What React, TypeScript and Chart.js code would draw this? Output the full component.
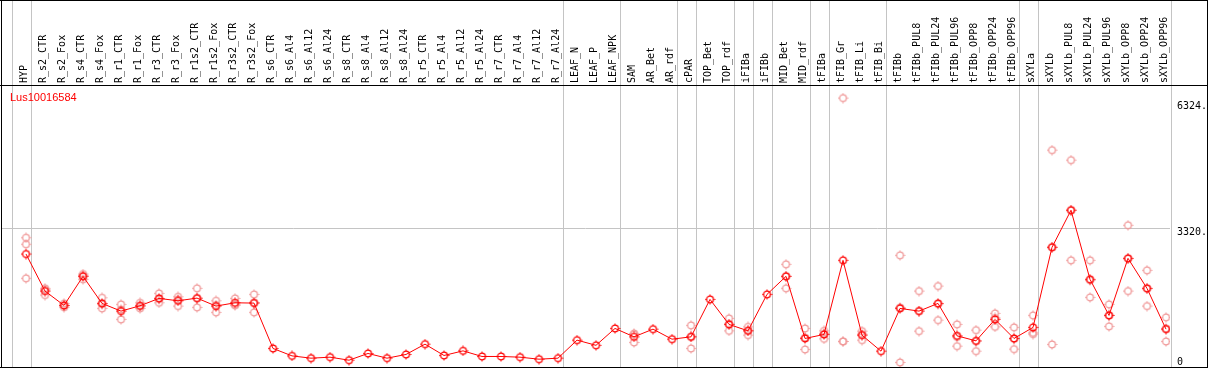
import React, { useEffect, useRef } from "react";
import { Chart, registerables } from "chart.js";

Chart.register(...registerables);

const chartTitle = "Lus10016584";

const categories = [
  "HYP",
  "R_s2_CTR", "R_s2_Fox", "R_s4_CTR", "R_s4_Fox", "R_r1_CTR", "R_r1_Fox", "R_r3_CTR", "R_r3_Fox",
  "R_r1s2_CTR", "R_r1s2_Fox", "R_r3s2_CTR", "R_r3s2_Fox",
  "R_s6_CTR", "R_s6_Al4", "R_s6_Al12", "R_s6_Al24", "R_s8_CTR", "R_s8_Al4", "R_s8_Al12", "R_s8_Al24",
  "R_r5_CTR", "R_r5_Al4", "R_r5_Al12", "R_r5_Al24", "R_r7_CTR", "R_r7_Al4", "R_r7_Al12", "R_r7_Al24",
  "LEAF_N", "LEAF_P", "LEAF_NPK",
  "SAM", "AR_Bet", "AR_rdf",
  "cPAR",
  "TOP_Bet", "TOP_rdf",
  "iFIBa", "iFIBb",
  "MID_Bet", "MID_rdf",
  "tFIBa",
  "tFIB_Gr", "tFIB_Li", "tFIB_Bi",
  "tFIBb", "tFIBb_PUL8", "tFIBb_PUL24", "tFIBb_PUL96", "tFIBb_OPP8", "tFIBb_OPP24", "tFIBb_OPP96",
  "sXYLa",
  "sXYLb", "sXYLb_PUL8", "sXYLb_PUL24", "sXYLb_PUL96", "sXYLb_OPP8", "sXYLb_OPP24", "sXYLb_OPP96",
];

const means = [
  2704, 1817, 1474, 2170, 1522, 1338, 1465, 1642, 1585, 1649, 1458, 1537, 1530,
  444, 266, 211, 235, 163, 324, 211, 300, 547, 276, 386, 252, 252, 235, 187, 211,
  643, 519, 923,
  722, 906, 666,
  722,
  1618, 1019,
  866, 1738,
  2170, 683,
  779,
  2553, 762, 379,
  1402, 1338, 1522, 746, 626, 1139, 683,
  947,
  2865, 3752, 2098, 1235, 2601, 1882, 906,
];

const N = null;
const repA = [
  3095, 1882, 1522, 2225, 1657, 1498, 1537, 1762, 1681, 1882, 1585, 1642, 1738,
  N, N, N, N, N, N, N, N, N, N, N, N, N, N, N, N,
  N, N, N,
  803, N, N,
  995,
  N, 1163,
  961, N,
  2457, 923,
  866,
  6437, 858, N,
  2673, 1817, 1937, 1019, 882, 1283, 947,
  1235,
  5191, 4951, 2553, 1498, 3392, 2314, 1187,
];
const repB = [
  2122, 1721, 1430, 2098, 1402, 1139, 1402, 1537, 1458, 1426, 1307, 1482, 1307,
  N, N, N, N, N, N, N, N, N, N, N, N, N, N, N, N,
  N, N, N,
  587, N, N,
  444,
  N, 866,
  762, N,
  1882, 420,
  674,
  611, 643, N,
  108, 858, 1122, 499, 379, 961, 427,
  818,
  539, 2553, 1666, 971, 1817, 1458, 611,
];
const repC = [
  2937, 1848, 1470, 2187, 1507, 1377, 1456, 1627, 1616, 1639, 1482, 1487, 1545,
  N, N, N, N, N, N, N, N, N, N, N, N, N, N, N, N,
  N, N, N,
  776, N, N,
  727,
  N, 1028,
  875, N,
  2171, 706,
  797,
  611, 785, N,
  1425, 1339, 1507, 720, 617, 1173, 675,
  788,
  2865, 3752, 2075, 1236, 2594, 1874, 920,
];

const yTicks = [0, 3320, 6324];
const yMax = 6750;
// index of the last category in each group (separator drawn just after it)
const groupEnds = [-1, 0, 28, 31, 34, 35, 37, 38, 39, 41, 42, 45, 52, 53, 60];

function makeMarker(color: string) {
  const c = document.createElement("canvas");
  c.width = 11;
  c.height = 11;
  const g = c.getContext("2d")!;
  g.strokeStyle = color;
  g.lineWidth = 1.3;
  g.beginPath();
  g.arc(5.5, 5.5, 3.4, 0, Math.PI * 2);
  g.stroke();
  g.lineWidth = 1;
  g.beginPath();
  g.moveTo(5.5, 0.5); g.lineTo(5.5, 2);
  g.moveTo(5.5, 9); g.lineTo(5.5, 10.5);
  g.moveTo(0.5, 5.5); g.lineTo(2, 5.5);
  g.moveTo(9, 5.5); g.lineTo(10.5, 5.5);
  g.stroke();
  return c;
}

const toPoints = (arr: (number | null)[]) =>
  arr
    .map((v, i) => (v == null ? null : { x: i, y: v }))
    .filter((p) => p !== null) as { x: number; y: number }[];

const decorPlugin = {
  id: "decor",
  beforeDatasetsDraw(chart: any) {
    const { ctx, chartArea, scales } = chart;
    const xs = scales.x;
    ctx.save();
    ctx.strokeStyle = "#c4c4c4";
    ctx.lineWidth = 1;
    for (const s of groupEnds) {
      const px = Math.round(xs.getPixelForValue(s + 0.25)) + 0.5;
      ctx.beginPath();
      ctx.moveTo(px, 0);
      ctx.lineTo(px, chartArea.bottom);
      ctx.stroke();
    }
    ctx.restore();
  },
  afterDraw(chart: any) {
    const { ctx, chartArea, scales } = chart;
    const ys = scales.y;
    ctx.save();
    ctx.strokeStyle = "#000";
    ctx.lineWidth = 1;
    ctx.beginPath();
    ctx.moveTo(0, 0.5); ctx.lineTo(1208, 0.5);
    ctx.moveTo(0, chartArea.top + 0.5); ctx.lineTo(1208, chartArea.top + 0.5);
    ctx.moveTo(0, chartArea.bottom + 0.5); ctx.lineTo(1208, chartArea.bottom + 0.5);
    ctx.moveTo(1.5, 0); ctx.lineTo(1.5, chartArea.bottom + 1);
    ctx.moveTo(1207.5, 0); ctx.lineTo(1207.5, chartArea.bottom + 1);
    ctx.stroke();
    ctx.fillStyle = "#ff0000";
    ctx.font = '11px "Liberation Sans", Arial, sans-serif';
    ctx.textBaseline = "alphabetic";
    ctx.textAlign = "left";
    ctx.fillText(chartTitle, 10, 101);
    ctx.fillStyle = "#000";
    ctx.font = '10px "DejaVu Sans Mono", monospace';
    ctx.textBaseline = "middle";
    for (const t of ys.ticks) {
      const py = ys.getPixelForValue(t.value);
      const ly = Math.min(py + 4, chartArea.bottom - 5);
      ctx.fillText(String(t.label), chartArea.right + 7, ly);
    }
    ctx.restore();
  },
};

export default function App() {
  const ref = useRef<HTMLCanvasElement>(null);
  useEffect(() => {
    if (!ref.current) return;
    const meanMarker = makeMarker("#ff0000");
    const repMarker = makeMarker("#f09a9a");
    const xMin = (1 - 26) / 19;
    const xMax = (1170 - 26) / 19;
    const repDataset = (arr: (number | null)[]) => ({
      data: toPoints(arr),
      showLine: false,
      pointStyle: repMarker,
      pointRadius: 5,
      borderColor: "#f09a9a",
    });
    const chart = new Chart(ref.current, {
      type: "line",
      data: {
        datasets: [
          {
            data: means.map((v, i) => ({ x: i, y: v })),
            borderColor: "#ff0000",
            borderWidth: 1,
            pointStyle: meanMarker,
            pointRadius: 5,
            tension: 0,
          } as any,
          repDataset(repA) as any,
          repDataset(repB) as any,
          repDataset(repC) as any,
        ],
      },
      options: {
        animation: false,
        responsive: false,
        maintainAspectRatio: false,
        events: [],
        layout: { autoPadding: false, padding: { left: 1, right: 2, top: 0, bottom: 3 } },
        plugins: {
          legend: { display: false },
          tooltip: { enabled: false },
          title: { display: false },
        },
        scales: {
          x: {
            type: "linear",
            position: "top",
            min: xMin,
            max: xMax,
            afterBuildTicks: (s: any) => {
              s.ticks = categories.map((_, i) => ({ value: i }));
            },
            afterFit: (s: any) => {
              s.height = 85;
              s.paddingLeft = 0;
              s.paddingRight = 0;
            },
            ticks: {
              autoSkip: false,
              maxRotation: 90,
              minRotation: 90,
              padding: -6,
              labelOffset: 10,
              color: "#000",
              font: { family: '"DejaVu Sans Mono", monospace', size: 10 },
              callback: (v: any) => categories[v as number] ?? "",
            },
            grid: { display: false },
            border: { display: false },
          },
          y: {
            type: "linear",
            position: "right",
            min: 0,
            max: yMax,
            afterBuildTicks: (s: any) => {
              s.ticks = yTicks.map((v) => ({ value: v }));
            },
            afterFit: (s: any) => {
              s.width = 37;
              s.paddingTop = 0;
              s.paddingBottom = 0;
            },
            ticks: {
              display: false,
              callback: (v: any) => (v === 0 ? "0" : v + "."),
            },
            grid: {
              drawTicks: false,
              color: (c: any) => (c.tick && c.tick.value === 3320 ? "#c4c4c4" : "rgba(0,0,0,0)"),
            },
            border: { display: false },
          },
        },
      } as any,
      plugins: [decorPlugin],
    });
    return () => chart.destroy();
  }, []);
  return (
    <div style={{ position: "absolute", left: 0, top: 0, width: 1209, height: 370, background: "#fff" }}>
      <canvas ref={ref} width={1209} height={370} style={{ display: "block" }} />
    </div>
  );
}
